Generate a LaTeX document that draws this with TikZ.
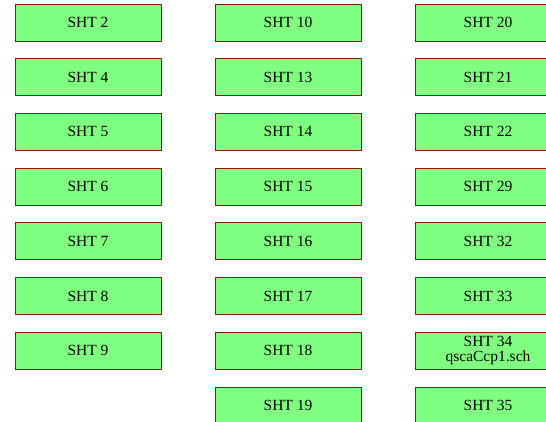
\documentclass[tikz,border=0pt]{standalone}
\usepackage{fontspec}
\setmainfont{Liberation Serif}
\usetikzlibrary{positioning}

\definecolor{sheetfill}{RGB}{128,255,128}
\definecolor{sheetline}{RGB}{140,20,20}

\begin{document}
\begin{tikzpicture}[
    x=1pt, y=-1pt,
    font=\fontsize{15.5}{14.5}\selectfont,
    sheet/.style={draw=sheetline, fill=sheetfill, line width=0.8pt, align=center,
                  minimum width=146pt, minimum height=37pt, inner sep=0pt},
  ]

  % Page frame (the right-hand column runs off the edge)
  \clip (0,0) rectangle (546,421);

  % Column x-positions and row y-positions
  \def\xa{88}  \def\xb{288}  \def\xc{488}
  \def\ra{22.5}  \def\rb{77.2}  \def\rc{131.9}  \def\rd{186.6}
  \def\re{241.3} \def\rf{296}   \def\rg{350.7}  \def\rh{405.4}

  % Column 1
  \node[sheet] (s2) at (\xa,\ra) {SHT 2};
  \node[sheet] (s4) at (\xa,\rb) {SHT 4};
  \node[sheet] (s5) at (\xa,\rc) {SHT 5};
  \node[sheet] (s6) at (\xa,\rd) {SHT 6};
  \node[sheet] (s7) at (\xa,\re) {SHT 7};
  \node[sheet] (s8) at (\xa,\rf) {SHT 8};
  \node[sheet] (s9) at (\xa,\rg) {SHT 9};

  % Column 2
  \node[sheet] (s10) at (\xb,\ra) {SHT 10};
  \node[sheet] (s13) at (\xb,\rb) {SHT 13};
  \node[sheet] (s14) at (\xb,\rc) {SHT 14};
  \node[sheet] (s15) at (\xb,\rd) {SHT 15};
  \node[sheet] (s16) at (\xb,\re) {SHT 16};
  \node[sheet] (s17) at (\xb,\rf) {SHT 17};
  \node[sheet] (s18) at (\xb,\rg) {SHT 18};
  \node[sheet] (s19) at (\xb,\rh) {SHT 19};

  % Column 3
  \node[sheet] (s20) at (\xc,\ra) {SHT 20};
  \node[sheet] (s21) at (\xc,\rb) {SHT 21};
  \node[sheet] (s22) at (\xc,\rc) {SHT 22};
  \node[sheet] (s29) at (\xc,\rd) {SHT 29};
  \node[sheet] (s32) at (\xc,\re) {SHT 32};
  \node[sheet] (s33) at (\xc,\rf) {SHT 33};
  \node[sheet] (s34) at (\xc,\rg) {SHT 34\\ qscaCcp1.sch};
  \node[sheet] (s35) at (\xc,\rh) {SHT 35};

\end{tikzpicture}
\end{document}
